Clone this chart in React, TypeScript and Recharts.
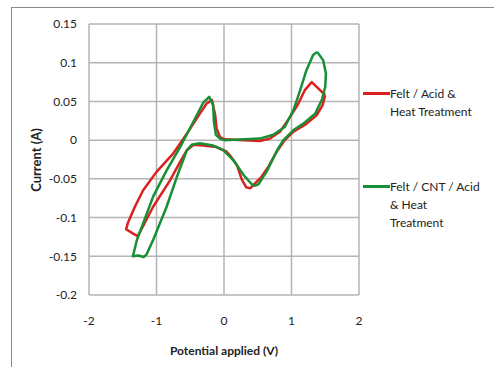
import { LineChart, Line, XAxis, YAxis, CartesianGrid, Legend } from 'recharts';

const xTicks = [-2, -1, 0, 1, 2];
const yTicks = [-0.2, -0.15, -0.1, -0.05, 0, 0.05, 0.1, 0.15];

const seriesNames = ['Felt / Acid & Heat Treatment', 'Felt / CNT / Acid & Heat Treatment'];
const legendLines = [
  ['Felt / Acid &', 'Heat Treatment'],
  ['Felt / CNT / Acid', '& Heat', 'Treatment'],
];

// Felt / Acid & Heat Treatment, one closed CV loop
const feltAcidPotential = [
  1.5, 1.46, 1.37, 1.22, 1.03, 0.9, 0.78, 0.66, 0.55, 0.48, 0.39, 0.33, 0.29, 0.26, 0.19, 0.1, 0.04,
  -0.11, -0.31, -0.45, -0.55, -0.65, -0.8, -1.05, -1.24, -1.28, -1.34, -1.45, -1.42, -1.32, -1.2, -1.0,
  -0.75, -0.53, -0.36, -0.26, -0.18, -0.13, -0.11, -0.06, 0.01, 0.3, 0.53, 0.68, 0.83, 0.98, 1.1, 1.2,
  1.3, 1.37, 1.5,
];
const feltAcidCurrent = [
  0.058, 0.045, 0.032, 0.021, 0.011, 0.0, -0.015, -0.034, -0.048, -0.054, -0.062, -0.061, -0.055, -0.05,
  -0.032, -0.021, -0.015, -0.009, -0.007, -0.006, -0.013, -0.028, -0.052, -0.086, -0.118, -0.124, -0.121,
  -0.115, -0.106, -0.086, -0.065, -0.041, -0.017, 0.011, 0.034, 0.047, 0.052, 0.032, 0.015, 0.004, 0.001,
  0.0, -0.001, 0.002, 0.011, 0.03, 0.047, 0.065, 0.075, 0.069, 0.058,
];

// Felt / CNT / Acid & Heat Treatment
const feltCntPotential = [
  1.38, 1.47, 1.51, 1.5, 1.45, 1.35, 1.17, 1.03, 0.88, 0.8, 0.63, 0.51, 0.45, 0.4, 0.29, 0.14, -0.01,
  -0.16, -0.36, -0.48, -0.55, -0.68, -0.85, -1.05, -1.15, -1.19, -1.27, -1.35, -1.29, -1.2, -1.05, -0.85,
  -0.65, -0.5, -0.31, -0.22, -0.16, -0.15, -0.12, -0.06, 0.01, 0.53, 0.73, 0.9, 1.03, 1.13, 1.22, 1.32,
  1.38,
];
const feltCntCurrent = [
  0.114, 0.103, 0.086, 0.069, 0.052, 0.034, 0.021, 0.013, 0.0, -0.011, -0.041, -0.057, -0.059, -0.056,
  -0.045, -0.026, -0.013, -0.007, -0.004, -0.006, -0.013, -0.043, -0.086, -0.129, -0.148, -0.151, -0.149,
  -0.15, -0.129, -0.108, -0.073, -0.039, -0.009, 0.016, 0.048, 0.056, 0.045, 0.024, 0.007, 0.002, 0.0,
  0.002, 0.007, 0.017, 0.039, 0.065, 0.09, 0.11, 0.114,
];

const feltAcidData = feltAcidPotential.map((v, k) => ({ v, i: feltAcidCurrent[k] }));
const feltCntData = feltCntPotential.map((v, k) => ({ v, i: feltCntCurrent[k] }));

const font = "Lato, 'Liberation Sans', sans-serif";

function LegendBox({ payload }: any) {
  const items = payload || [];
  return (
    <div style={{ fontFamily: font, fontSize: 12, color: '#222' }}>
      {items.map((entry: any, idx: number) => {
        const k = seriesNames.indexOf(entry.value);
        const lines = legendLines[k] || [entry.value];
        return (
          <div key={idx} style={{ display: 'flex', alignItems: 'flex-start', marginBottom: idx === 0 ? 57 : 0 }}>
            <div style={{ width: 27, height: 3, background: entry.color, marginTop: 7 }} />
            <div style={{ lineHeight: '18px' }}>
              {lines.map((l, j) => (
                <div key={j} style={{ whiteSpace: 'nowrap' }}>{l}</div>
              ))}
            </div>
          </div>
        );
      })}
    </div>
  );
}

export default function App() {
  return (
    <div style={{ position: 'absolute', left: 0, top: 0, width: 494, height: 367, overflow: 'hidden', background: '#fff' }}>
      <div style={{ position: 'absolute', left: 11, top: 7, width: 520, height: 420, border: '1px solid #8a8a8a' }} />
      <LineChart width={494} height={367} margin={{ top: 24, right: 135, bottom: 42, left: 29 }}>
        <CartesianGrid stroke="#b5b5b5" strokeWidth={1.5} />
        <XAxis
          type="number"
          dataKey="v"
          domain={[-2, 2]}
          ticks={xTicks}
          axisLine={false}
          tickLine={false}
          tickSize={0}
          tickMargin={21}
          height={30}
          tick={{ fill: '#222', fontSize: 12, fontFamily: font }}
        />
        <YAxis
          type="number"
          dataKey="i"
          domain={[-0.2, 0.15]}
          ticks={yTicks}
          axisLine={false}
          tickLine={false}
          tickSize={0}
          tickMargin={12}
          width={60}
          tick={{ fill: '#222', fontSize: 12, fontFamily: font }}
        />
        <Legend layout="vertical" align="center" verticalAlign="middle" content={LegendBox}
          wrapperStyle={{ left: 363, top: 85, width: 130 }} />
        <Line data={feltAcidData} dataKey="i" name={seriesNames[0]} type="linear" stroke="#dc1f1f"
          strokeWidth={2.5} dot={false} isAnimationActive={false} strokeLinejoin="round" />
        <Line data={feltCntData} dataKey="i" name={seriesNames[1]} type="linear" stroke="#178f36"
          strokeWidth={2.5} dot={false} isAnimationActive={false} strokeLinejoin="round" />
      </LineChart>
      <div style={{ position: 'absolute', left: 36, top: 160, transform: 'translate(-50%, -50%) rotate(-90deg)',
        fontFamily: font, fontWeight: 'bold', fontSize: 13, color: '#222', whiteSpace: 'nowrap' }}>
        Current (A)
      </div>
      <div style={{ position: 'absolute', left: 224, top: 350, transform: 'translate(-50%, -50%)',
        fontFamily: font, fontWeight: 'bold', fontSize: 12, color: '#222', whiteSpace: 'nowrap' }}>
        Potential applied (V)
      </div>
    </div>
  );
}
